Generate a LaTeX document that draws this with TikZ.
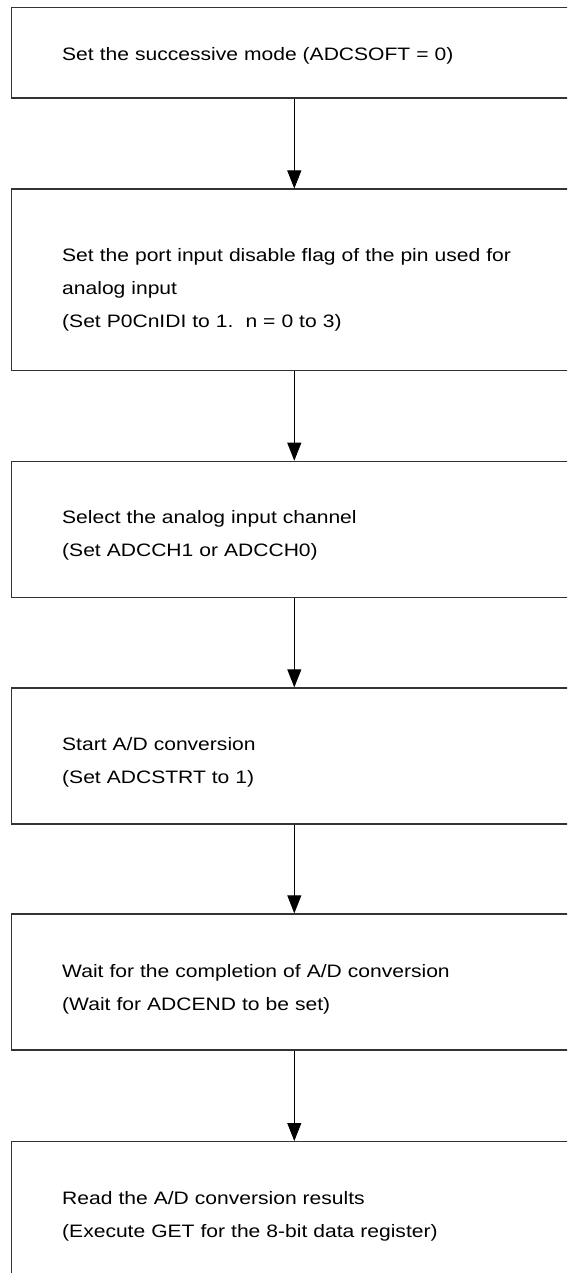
\documentclass[tikz,border=0pt]{standalone}
\usepackage{fontspec}
\setmainfont{Liberation Sans}[FakeStretch=1.17]
\usetikzlibrary{arrows.meta}
\begin{document}
\begin{tikzpicture}[x=1pt,y=-1pt,
  stepbox/.style={draw=black!80, line width=1.2pt, anchor=north west,
    minimum width=565pt, text width=463pt, inner xsep=51pt, inner ysep=0pt,
    align=left, font=\fontsize{18}{33}\selectfont},
  flow/.style={draw=black, line width=0.9pt, -{Triangle[length=18pt,width=14pt]}}]
\useasboundingbox (0,0) rectangle (567,1273);
\clip (0,0) rectangle (567,1273);
\coordinate (ax) at (294.3,0);
\node[stepbox, minimum height=90.5pt] (b1) at (11,7) {};
\node[stepbox, minimum height=181.5pt] (b2) at (11,188.5) {};
\node[stepbox, minimum height=136pt] (b3) at (11,460.7) {};
\node[stepbox, minimum height=136pt] (b4) at (11,687.3) {};
\node[stepbox, minimum height=136pt] (b5) at (11,913.3) {};
\node[stepbox, minimum height=136pt] (b6) at (11,1141) {};
\tikzset{steptext/.style={draw=none, anchor=west, text width=463pt, inner xsep=0pt, inner ysep=0pt,
    align=left, font=\fontsize{18}{33}\selectfont}}
\node[steptext] (t1) at ([xshift=51pt,yshift=-2.5pt]b1.west)
  {Set the successive mode (ADCSOFT = 0)};
\node[steptext] (t2) at ([xshift=51pt,yshift=-10pt]b2.west)
  {Set the port input disable flag of the pin used for\\analog input\\(Set P0CnIDI to 1.\ \ n = 0 to 3)};
\node[steptext] (t3) at ([xshift=51pt,yshift=-6pt]b3.west)
  {Select the analog input channel\\(Set ADCCH1 or ADCCH0)};
\node[steptext] (t4) at ([xshift=51pt,yshift=-6.5pt]b4.west)
  {Start A/D conversion\\(Set ADCSTRT to 1)};
\node[steptext] (t5) at ([xshift=51pt,yshift=-7.5pt]b5.west)
  {Wait for the completion of A/D conversion\\(Wait for ADCEND to be set)};
\node[steptext] (t6) at ([xshift=51pt,yshift=-7pt]b6.west)
  {Read the A/D conversion results\\(Execute GET for the 8-bit data register)};
\draw[flow] (b1.south -| ax) -- (b2.north -| ax);
\draw[flow] (b2.south -| ax) -- (b3.north -| ax);
\draw[flow] (b3.south -| ax) -- (b4.north -| ax);
\draw[flow] (b4.south -| ax) -- (b5.north -| ax);
\draw[flow] (b5.south -| ax) -- (b6.north -| ax);
\end{tikzpicture}
\end{document}
